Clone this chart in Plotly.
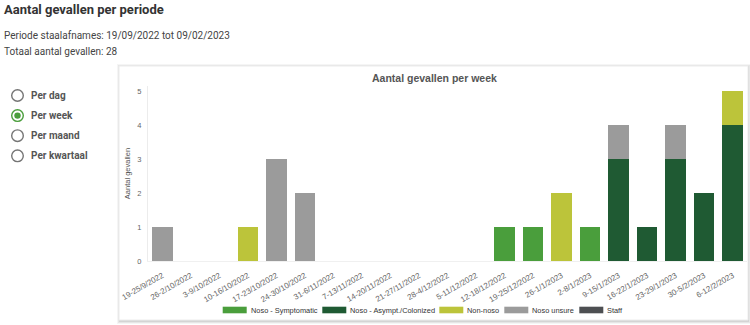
import plotly.graph_objects as go

# Weekly case counts per category
weeks = [
    "19-25/9/2022", "26-2/10/2022", "3-9/10/2022", "10-16/10/2022",
    "17-23/10/2022", "24-30/10/2022", "31-6/11/2022", "7-13/11/2022",
    "14-20/11/2022", "21-27/11/2022", "28-4/12/2022", "5-11/12/2022",
    "12-18/12/2022", "19-25/12/2022", "26-1/1/2023", "2-8/1/2023",
    "9-15/1/2023", "16-22/1/2023", "23-29/1/2023", "30-5/2/2023",
    "6-12/2/2023",
]
noso_symptomatic = [0, 0, 0, 0, 0, 0, 0, 0, 0, 0, 0, 0, 1, 1, 0, 1, 0, 0, 0, 0, 0]
noso_asympt = [0, 0, 0, 0, 0, 0, 0, 0, 0, 0, 0, 0, 0, 0, 0, 0, 3, 1, 3, 2, 4]
non_noso = [0, 0, 0, 1, 0, 0, 0, 0, 0, 0, 0, 0, 0, 0, 2, 0, 0, 0, 0, 0, 1]
noso_unsure = [1, 0, 0, 0, 3, 2, 0, 0, 0, 0, 0, 0, 0, 0, 0, 0, 1, 0, 1, 0, 0]
staff = [0] * 21

series_names = ["Noso - Symptomatic", "Noso - Asympt./Colonized", "Non-noso",
                "Noso unsure", "Staff"]
series_values = [noso_symptomatic, noso_asympt, non_noso, noso_unsure, staff]
series_colors = ["#4a9e3c", "#1f5a33", "#bcc43a", "#9b9b9b", "#4d4f52"]

radio_labels = ["Per dag", "Per week", "Per maand", "Per kwartaal"]
selected_radio = "Per week"

total_cases = sum(sum(v) for v in series_values)

W, H = 750, 325
L, R, T, B = 148, 3, 86, 64
PW, PH = W - L - R, H - T - B


def px(x):
    return (x - L) / PW


def py(y):
    return (H - B - y) / PH


fig = go.Figure()
for name, vals, col in zip(series_names, series_values, series_colors):
    fig.add_trace(go.Bar(
        x=weeks, y=vals, name=name, marker=dict(color=col, line=dict(width=0)),
        hoverinfo="x+y+name", showlegend=False,
    ))

shapes = []
# card shadow + card
for i, a in enumerate([0.04, 0.06, 0.08]):
    d = 3 - i
    shapes.append(dict(type="rect", xref="paper", yref="paper", layer="below",
                       x0=px(119 - d + 1), x1=px(748 + d), y0=py(321 + d), y1=py(66 - d + 1),
                       line=dict(width=0), fillcolor=f"rgba(0,0,0,{a})"))
shapes.append(dict(type="rect", xref="paper", yref="paper", layer="below",
                   x0=px(119), x1=px(748), y0=py(320), y1=py(66),
                   line=dict(width=1, color="#ececec"), fillcolor="white"))

annotations = [
    dict(text="<b>Aantal gevallen per periode</b>", x=px(2), y=py(9.5), xref="paper", yref="paper",
         xanchor="left", yanchor="middle", showarrow=False,
         font=dict(family="Roboto", size=13, color="#333333")),
    dict(text="Periode staalafnames: 19/09/2022 tot 09/02/2023", x=px(2), y=py(36),
         xref="paper", yref="paper", xanchor="left", yanchor="middle", showarrow=False,
         font=dict(family="Roboto", size=10, color="#444444")),
    dict(text=f"Totaal aantal gevallen: {total_cases}", x=px(2), y=py(51.5),
         xref="paper", yref="paper", xanchor="left", yanchor="middle", showarrow=False,
         font=dict(family="Roboto", size=10, color="#444444")),
    dict(text="<b>Aantal gevallen per week</b>", x=px(434), y=py(78), xref="paper", yref="paper",
         xanchor="center", yanchor="middle", showarrow=False,
         font=dict(family="Liberation Sans", size=10.5, color="#555555")),
]

# radio options
for i, lab in enumerate(radio_labels):
    cy = 95.5 + i * 20.1
    sel = lab == selected_radio
    ring = "#4a9e3c" if sel else "#757575"
    shapes.append(dict(type="circle", xref="paper", yref="paper",
                       x0=px(11.7), x1=px(23.3), y0=py(cy + 5.8), y1=py(cy - 5.8),
                       line=dict(width=1.4, color=ring), fillcolor="white"))
    if sel:
        shapes.append(dict(type="circle", xref="paper", yref="paper",
                           x0=px(14.3), x1=px(20.7), y0=py(cy + 3.2), y1=py(cy - 3.2),
                           line=dict(width=0), fillcolor=ring))
    annotations.append(dict(text=f"<b>{lab}</b>", x=px(29), y=py(cy), xref="paper", yref="paper",
                            xanchor="left", yanchor="middle", showarrow=False,
                            font=dict(family="Roboto", size=10, color="#555555")))

# legend row below the chart: wide colour swatch followed by the series name
legend_x = [222.7, 322.3, 439.3, 504.3, 579.3]
legend_y = 310
for name, col, lx in zip(series_names, series_colors, legend_x):
    shapes.append(dict(type="rect", xref="paper", yref="paper",
                       x0=px(lx), x1=px(lx + 24), y0=py(legend_y + 3.3), y1=py(legend_y - 3.3),
                       line=dict(width=0), fillcolor=col))
    annotations.append(dict(text=name, x=px(lx + 26), y=py(legend_y), xref="paper", yref="paper",
                            xanchor="left", yanchor="middle", showarrow=False,
                            font=dict(family="Liberation Sans", size=7.4, color="#333333")))

fig.update_layout(
    width=W, height=H, margin=dict(l=L, r=R, t=T, b=B),
    paper_bgcolor="white", plot_bgcolor="rgba(0,0,0,0)",
    barmode="stack", bargap=0.28,
    shapes=shapes, annotations=annotations,
    showlegend=False,
    font=dict(family="Liberation Sans"),
)
fig.update_xaxes(
    type="category", tickangle=-30, showgrid=False, ticks="",
    tickfont=dict(family="Liberation Sans", size=7.9, color="#666666"),
    ticklabelstandoff=6,
    showline=True, linecolor="#f0f0f0", linewidth=1,
)
fig.update_yaxes(
    range=[0, 5.15], tickvals=[0, 1, 2, 3, 4, 5], showgrid=False, zeroline=False,
    showline=True, linecolor="#ececec", linewidth=1, ticks="",
    tickfont=dict(family="Liberation Sans", size=7.5, color="#666666"),
    ticklabelstandoff=4,
    title=dict(text="Aantal gevallen", font=dict(family="Liberation Sans", size=7.5, color="#555555"),
               standoff=5),
)

fig.write_html("out.html")
